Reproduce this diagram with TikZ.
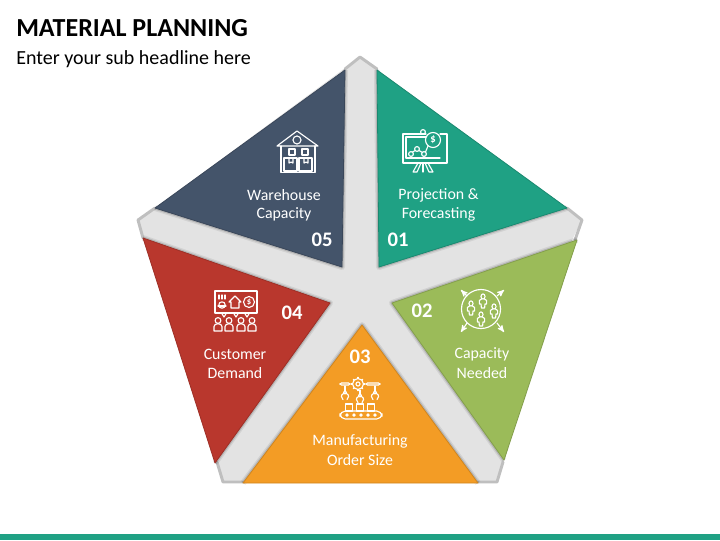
\documentclass[tikz,border=0pt]{standalone}
\usepackage{fontspec}
\setmainfont{Carlito}
\usetikzlibrary{arrows}
\definecolor{tealc}{HTML}{1FA184}
\definecolor{navyc}{HTML}{44546A}
\definecolor{redc}{HTML}{B9372D}
\definecolor{greenc}{HTML}{9BBB59}
\definecolor{orangec}{HTML}{F39C25}
\definecolor{armc}{HTML}{E3E3E3}
\definecolor{tipc}{HTML}{BFBFBF}
\tikzstyle{icon}=[draw=white,line width=0.85pt,line join=round,line cap=round,fill=none]
\tikzstyle{label}=[text=white,font=\fontsize{11.9}{14}\selectfont,inner sep=0pt]
\tikzstyle{num}=[text=white,font=\fontsize{15.5}{17}\selectfont\bfseries,inner sep=0pt]
\tikzstyle{tip}=[draw=tipc,line width=2.2pt,line join=round,line cap=round]
% one coloured petal: outer end, inner point, outer end
\newcommand{\petal}[4]{%
  \draw[black,opacity=.07,line width=4.5pt,line join=round] #2 -- #3 -- #4;
  \draw[black,opacity=.14,line width=2.4pt,line join=round] #2 -- #3 -- #4;
  \fill[#1] #2 -- #3 -- #4 -- cycle;
  \draw[#1!85!black,line width=.6pt,line join=round] #2 -- #3 -- #4 -- cycle;
}
% small figure of a person
\newcommand{\persona}[2]{%
  \begin{scope}[shift={(#1,#2)}]
  \draw[icon] (0,-4.5) circle (2.9);
  \draw[icon] (-4,6) -- (-4,1.5) .. controls (-4,-2.2) and (4,-2.2) .. (4,1.5) -- (4,6) -- cycle;
  \end{scope}
}
% person standing in the circle
\newcommand{\personb}[2]{%
  \begin{scope}[shift={(#1,#2)}]
  \draw[icon] (0,-4.5) ellipse (2 and 2.6);
  \draw[icon] (-1.5,-2) -- (-3.6,-0.5) -- (-3.6,3) -- (-2,3) -- (-1.6,7) -- (1.6,7) -- (2,3) -- (3.6,3) -- (3.6,-0.5) -- (1.5,-2);
  \end{scope}
}
\begin{document}
\begin{tikzpicture}[x=0.75pt,y=-0.75pt]
\useasboundingbox (0,0) rectangle (720,540);

\node[anchor=west,inner sep=0pt,font=\fontsize{19.5}{23}\selectfont\bfseries] (title) at (16,28.5) {MATERIAL PLANNING};
\node[anchor=west,inner sep=0pt,font=\fontsize{15}{18}\selectfont] (sub) at (16,59.5) {Enter your sub headline here};
\fill[tealc] (0,534) rectangle (720,540);

% the star behind the petals
\fill[armc] (360,57) -- (567,208) -- (582,220) -- (572,240) -- (503,465) -- (497,482) -- (223,482) -- (217,464) -- (143,238) -- (138,220) -- (155,208) -- cycle;
\draw[tip] (345,69) -- (360,57) -- (377,69);
\draw[tip] (567,208) -- (582,220) -- (575,240);
\draw[tip] (503,462) -- (497,482) -- (478,482);
\draw[tip] (217,462) -- (223,482) -- (243,482);
\draw[tip] (143,238) -- (138,220) -- (155,208);

\petal{tealc}{(377,70)}{(379,267)}{(567,208)}
\petal{greenc}{(577,240)}{(392,303)}{(504,460)}
\petal{orangec}{(243,483)}{(362,325)}{(478,483)}
\petal{redc}{(143,238)}{(330,303)}{(215,463)}
\petal{navyc}{(345,70)}{(342,267)}{(155,208)}

\node[label] (lb1a) at (438.5,195.5) {Projection \&};
\node[label] (lb1b) at (438.5,214.5) {Forecasting};
\node[label] (lb2a) at (482,354.5) {Capacity};
\node[label] (lb2b) at (482,373) {Needed};
\node[label] (lb3a) at (360,441.5) {Manufacturing};
\node[label] (lb3b) at (360,460.5) {Order Size};
\node[label] (lb4a) at (235,354.5) {Customer};
\node[label] (lb4b) at (235,373) {Demand};
\node[label] (lb5a) at (284,195.5) {Warehouse};
\node[label] (lb5b) at (284,214.5) {Capacity};

\node[num] (n1) at (398,240) {01};
\node[num] (n2) at (422,310.5) {02};
\node[num] (n3) at (360,357) {03};
\node[num] (n4) at (292,312.5) {04};
\node[num] (n5) at (322,240) {05};

% 05 house
\draw[icon] (277,146) -- (297,131) -- (318,146) -- cycle;
\draw[icon] (297,140) circle (4);
\draw[icon] (281,146) -- (281,172.5) -- (315,172.5) -- (315,146);
\draw[icon] (284,158) rectangle (297,171);
\draw[icon] (299,158) rectangle (312,171);
\draw[icon] (289,149) rectangle (295,155);
\draw[icon] (302,149) rectangle (308,155);
\draw[icon] (289,158) -- (289,163) -- (291,162) -- (293,163) -- (293,158);
\draw[icon] (304,158) -- (304,163) -- (306,162) -- (308,163) -- (308,158);

% 01 board
\draw[icon] (426,134) -- (403,134) -- (403,163) -- (447,163) -- (447,134) -- (440,134);
\draw[icon] (406,158) -- (440,158);
\draw[icon] (406,158) -- (406,137) -- (426,137);
\draw[icon] (423,132) circle (2.4);
\draw[icon] (433,140) circle (7.5);
\node[text=white,inner sep=0pt,font=\fontsize{8}{8}\selectfont\bfseries] (usd1) at (433,140) {\$};
\draw[icon] (411,154) circle (2.4);
\draw[icon] (417,149) circle (2.4);
\draw[icon] (424,154) circle (2.4);
\draw[icon] (412.5,152) -- (415.3,150.5) (419,150.5) -- (422.5,152.5) (425.5,152) -- (428,146);
\draw[icon] (418,163) -- (413,172) -- (417,172) -- (421,163);
\draw[icon] (423,163) -- (423,172);
\draw[icon] (428,163) -- (433,172) -- (429,172) -- (425,163);

% 02 people in a circle
\draw[icon] (481,309) circle (19.5);
\draw[icon,->,>=stealth'] (467,296) -- (461,290);
\draw[icon,->,>=stealth'] (497,296) -- (504,290);
\draw[icon,->,>=stealth'] (467,323) -- (461,332);
\draw[icon,->,>=stealth'] (497,323) -- (504,332);
\personb{483}{301}
\personb{471}{308}
\personb{494}{311}
\personb{481}{319}

% 03 conveyor
\draw[icon] (358,384) circle (2);
\draw[icon] (358,384) circle (5.5);
\foreach \ang in {0,45,...,315}
  \draw[icon] (358,384) ++(\ang:5.5) -- ++(\ang:1.2);
\draw[icon,rounded corners=1pt] (350,383) -- (340,383) -- (340,385) -- (350,385) -- cycle;
\draw[icon,rounded corners=1pt] (366,383) -- (380,383) -- (380,385) -- (366,385) -- cycle;
\draw[icon,rounded corners=4pt] (340,411) rectangle (382,419);
\foreach \xa in {349,360,371} {
  \draw[icon] (\xa-3.5,404) rectangle (\xa+3.5,411);
}
\foreach \xa in {345,375} {
  \draw[icon] (\xa,386) -- (\xa,391);
  \draw[icon] (\xa,392.5) circle (1.5);
  \draw[icon] (\xa-1.5,393.5) .. controls (\xa-4.5,395) and (\xa-4,398) .. (\xa-2,399.5);
  \draw[icon] (\xa+1.5,393.5) .. controls (\xa+4.5,395) and (\xa+4,398) .. (\xa+2,399.5);
}
\draw[icon] (360,390) -- (360,394);
\draw[icon] (360,395.5) circle (1.5);
\draw[icon] (358.5,396.5) .. controls (355.5,398) and (356,401) .. (358,402.5);
\draw[icon] (361.5,396.5) .. controls (364.5,398) and (364,401) .. (362,402.5);
\foreach \xa in {347,354,361,368,375}
  \draw[icon] (\xa,415) circle (1.2);

% 04 customers
\draw[icon] (215,291) rectangle (257,313);
\foreach \xa in {224,236,247}
  \draw[icon] (\xa-2.5,313) -- (\xa,317) -- (\xa+2.5,313);
\draw[icon] (229,302) -- (231,302) -- (231,308) -- (239,308) -- (239,302) -- (241,302) -- (235,296) -- cycle;
\draw[icon] (249,302) circle (5.5);
\node[text=white,inner sep=0pt,font=\fontsize{6.5}{7}\selectfont\bfseries] (usd4) at (249,302) {\$};
\draw[icon] (222,305) circle (3.2);
\draw[icon] (218,306) -- (226,306);
\foreach \xa in {219,222,225}
  \draw[icon] (\xa,295) -- (\xa,299);
\foreach \xa in {218,229,241,252} {
  \persona{\xa}{325}
}

\end{tikzpicture}
\end{document}
